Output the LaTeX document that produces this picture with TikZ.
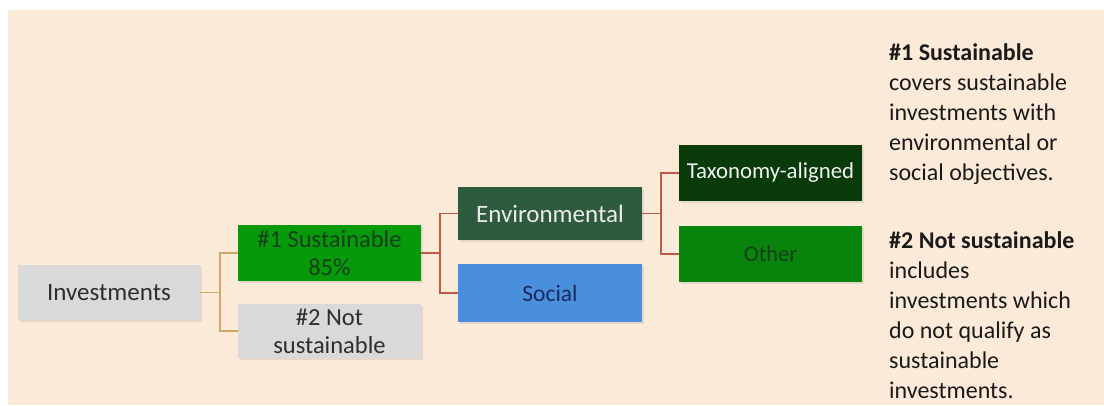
\documentclass[tikz,border=0pt]{standalone}
\usepackage{fontspec}
\setmainfont{Carlito}
\usetikzlibrary{shadows}
\definecolor{bgc}{HTML}{FBEAD8}
\definecolor{grayc}{HTML}{D9D9D9}
\definecolor{txtgray}{HTML}{2E2E2E}
\definecolor{greenone}{HTML}{06990A}
\definecolor{dkgreen}{HTML}{15401A}
\definecolor{envc}{HTML}{2E5A3D}
\definecolor{socc}{HTML}{4A8FDB}
\definecolor{navy}{HTML}{1A2A60}
\definecolor{taxc}{HTML}{083A0A}
\definecolor{othc}{HTML}{08830C}
\definecolor{tanc}{HTML}{CDA967}
\definecolor{redc}{HTML}{C05A45}
\definecolor{bodytxt}{HTML}{1A1A1A}
\begin{document}
\begin{tikzpicture}[x=1pt,y=-1pt,
  box/.style={rectangle, minimum width=183pt, minimum height=56pt, inner sep=0pt,
    align=center, font=\fontsize{24.5}{28}\selectfont,
    drop shadow={opacity=0.18, shadow xshift=1.5pt, shadow yshift=-2pt}},
  conntan/.style={draw=tanc, line width=1.8pt},
  connred/.style={draw=redc, line width=1.8pt},
  side/.style={anchor=base west, inner sep=0pt, text=bodytxt, font=\fontsize{24}{30}\selectfont}]
\useasboundingbox (0,0) rectangle (1104,405);
\fill[bgc] (8,10) rectangle (1104,405);

\node[box, fill=grayc, text=txtgray, minimum width=182pt, minimum height=55pt, font=\fontsize{25}{28}\selectfont] (inv) at (109,292.5) {Investments};
\node[box, fill=greenone, text=dkgreen] (s1) at (329.5,253) {\#1 Sustainable\\85\%};
\node[box, fill=grayc, text=txtgray, minimum height=54pt] (s2) at (329.5,331) {\#2 Not\\sustainable};
\node[box, fill=envc, text=white!92!black, minimum width=184pt, minimum height=53pt, font=\fontsize{25}{28}\selectfont] (env) at (550,213.5) {Environmental};
\node[box, fill=socc, text=navy, minimum width=184pt, minimum height=58pt, font=\fontsize{23.5}{28}\selectfont] (soc) at (550,293) {Social};
\node[box, fill=taxc, text=white!95!black, font=\fontsize{22.8}{26}\selectfont] (tax) at (770.5,173) {Taxonomy-aligned};
\node[box, fill=othc, text=dkgreen, font=\fontsize{22.5}{26}\selectfont] (oth) at (770.5,254) {Other};

\draw[conntan] (inv.east) -- ++(20,0) |- (s1.west);
\draw[conntan] (inv.east) -- ++(20,0) |- (s2.west);
\draw[connred] (s1.east) -- ++(19,0) |- (env.west);
\draw[connred] (s1.east) -- ++(19,0) |- (soc.west);
\draw[connred] (env.east) -- ++(19,0) |- (tax.west);
\draw[connred] (env.east) -- ++(19,0) |- (oth.west);

\node[side] (a1) at (889,60) {\textbf{\#1 Sustainable}};
\node[side] (a2) at (889,90) {covers sustainable};
\node[side] (a3) at (889,120) {investments with};
\node[side] (a4) at (889,150) {environmental or};
\node[side] (a5) at (889,180) {social objectives.};
\node[side] (b1) at (889,248) {\textbf{\#2 Not sustainable}};
\node[side] (b2) at (889,278) {includes};
\node[side] (b3) at (889,308) {investments which};
\node[side] (b4) at (889,338) {do not qualify as};
\node[side] (b5) at (889,368) {sustainable};
\node[side] (b6) at (889,398) {investments.};
\end{tikzpicture}
\end{document}
